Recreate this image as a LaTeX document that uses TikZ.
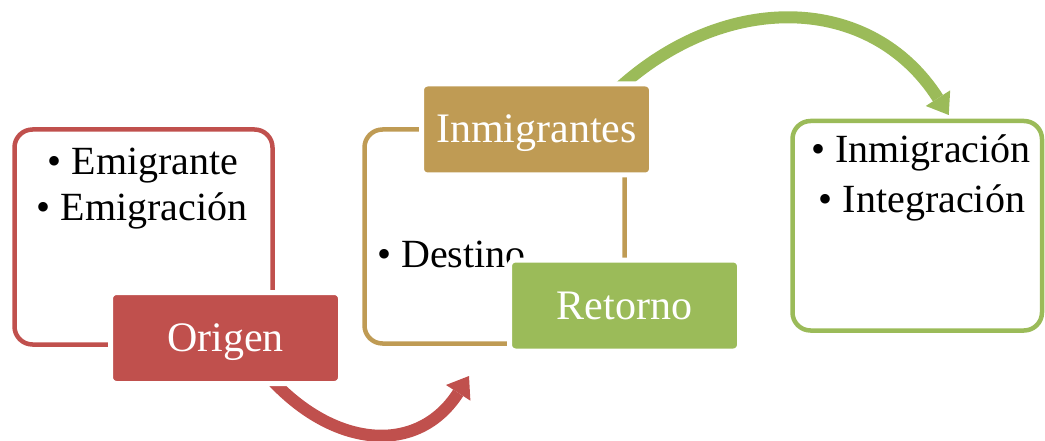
\documentclass[tikz,border=0pt]{standalone}
\usepackage{fontspec}
\setmainfont{Liberation Serif}
\usetikzlibrary{arrows.meta,backgrounds}
\definecolor{cred}{HTML}{C0504D}
\definecolor{ctan}{HTML}{BF9B54}
\definecolor{cgreen}{HTML}{9BBB59}
\begin{document}
\begin{tikzpicture}[x=1pt,y=-1pt,
  outline/.style={draw, line width=4.5pt, rounded corners=18pt, inner sep=0pt, outer sep=0pt},
  tag/.style={draw=white, line width=5pt, rounded corners=6pt, minimum width=230pt, minimum height=91pt, inner sep=0pt, outer sep=0pt, text=white, font=\fontsize{42}{47}\selectfont, text height=35pt, text depth=8pt},
  txt/.style={font=\fontsize{40}{45}\selectfont, inner sep=0pt, anchor=base},
  flow/.style={line width=12pt, -{Triangle[width=29pt,length=20pt,line width=0pt]}}]
\useasboundingbox (0,0) rectangle (1045,441);
\node[outline, draw=cred, minimum width=258pt, minimum height=215pt] (rbox) at (143.5,237) {};
\node[outline, draw=ctan, minimum width=260pt, minimum height=214pt] (tbox) at (494.5,236.5) {};
\node[outline, draw=cgreen, minimum width=249.5pt, minimum height=209.5pt] (gbox) at (917.25,225.75) {};
\node[txt] (t1) at (143,175) {• Emigrante};
\node[txt] (t2) at (142,220) {• Emigración};
\node[txt] (t3) at (921,163) {• Inmigración};
\node[txt] (t4) at (922,212) {• Integración};
\node[txt, anchor=base west] (t5) at (377,267) {• Destino};
\node[tag, fill=cred] (orig) at (225.5,338) {Origen};
\node[tag, fill=ctan] (inm) at (536.5,129.5) {Inmigrantes};
\node[tag, fill=cgreen] (ret) at (624.5,305.5) {Retorno};
\coordinate (rtip) at (469,376);
\begin{scope}[on background layer]
\draw[flow, cgreen] ([xshift=82.5pt,yshift=-4pt]inm.north) .. controls (726,-9) and (870.7,-6.8) .. ([xshift=31.5pt,yshift=6pt]gbox.north);
\draw[flow, cred] ([xshift=44.5pt,yshift=5.5pt]orig.south) .. controls (334,448.3) and (417.7,455.8) .. (rtip);
\end{scope}
\end{tikzpicture}
\end{document}
